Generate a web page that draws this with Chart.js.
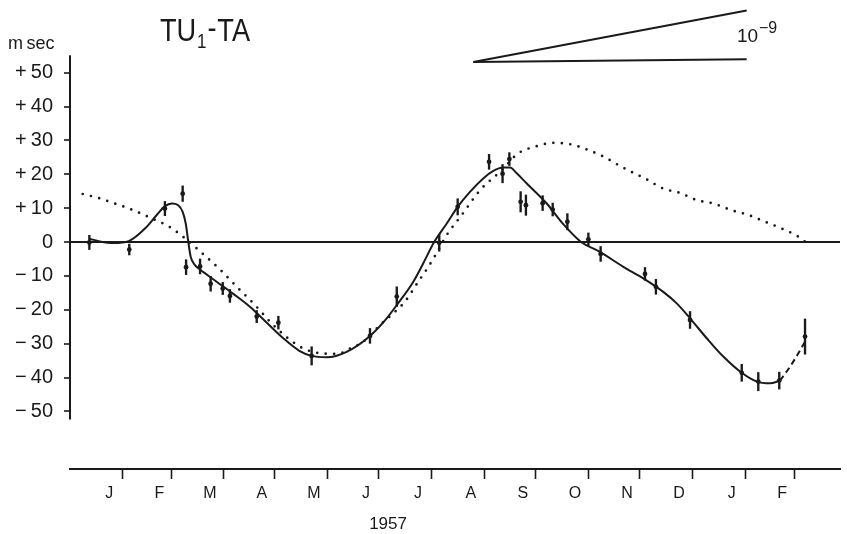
<!DOCTYPE html>
<html>
<head>
<meta charset="utf-8">
<script src="https://cdn.jsdelivr.net/npm/chart.js@4.4.1/dist/chart.umd.min.js"></script>
<style>
  html, body { margin: 0; padding: 0; background: #fff; }
  #wrap { width: 847px; height: 534px; position: relative; }
</style>
</head>
<body>
<div id="wrap"><canvas id="chart"></canvas></div>
<script>
// Month boundaries in days since 1 Jan 1957 (Jan 1957 .. Mar 1958)
const monthStarts = [0, 31, 59, 90, 120, 151, 181, 212, 243, 273, 304, 334, 365, 396, 424];
const monthLabels = ['J', 'F', 'M', 'A', 'M', 'J', 'J', 'A', 'S', 'O', 'N', 'D', 'J', 'F'];
const yTickValues = [50, 40, 30, 20, 10, 0, -10, -20, -30, -40, -50];

// Observed TU1 - TA in msec, with half-length of each error bar
const obsDay   = [3.9, 27.3, 48.2, 58.6, 60.6, 68.8, 75.0, 82.1, 86.3, 102.0, 114.7,
                  134.2, 168.4, 184.1, 209.0, 219.8, 238.2, 246.1, 250.1, 256.7, 259.8,
                  269.6, 275.5, 284.1, 296.4, 303.6, 329.6, 336.0, 356.0, 386.3, 396.0,
                  408.3, 423.4];
const obsValue = [-0.1, -2.2, 9.9, 14.3, -7.4, -7.2, -12.3, -13.7, -15.9, -22.0, -23.8,
                  -33.6, -27.7, -16.1, -0.2, 10.4, 23.7, 20.2, 24.5, 11.9, 10.9,
                  11.5, 9.6, 6.0, 0.8, -3.5, -9.4, -13.2, -23.0, -38.6, -41.2,
                  -40.9, -27.9];
const obsError = [2.1, 1.6, 2.1, 2.3, 2.2, 2.2, 2.2, 1.8, 1.9, 1.8, 1.9,
                  2.7, 2.2, 2.9, 2.5, 2.4, 2.2, 2.7, 1.9, 3.0, 3.0,
                  2.2, 1.9, 2.4, 1.9, 2.2, 1.9, 2.2, 2.5, 2.5, 2.7,
                  2.5, 5.2];

// Smoothed fit through the observations (solid) and its extrapolated end (dashed)
const fitDay   = [3.9, 10, 18, 27, 37.5, 43.4, 48.2, 52.2, 56, 58.6, 60.4, 61.9, 63.3, 65.8,
                  68.8, 78.5, 88.3, 98, 107.9, 117.6, 127, 134.2, 143, 154.7, 168.4, 178.2,
                  184.1, 193.8, 201.6, 205.5, 213.4, 219.8, 227, 234.8, 240.7, 246.2, 250.5,
                  254.4, 260.3, 272, 281.7, 292, 303.2, 316.9, 328.6, 340.3, 348.2, 356,
                  365.8, 375.5, 386.3, 395.1, 402.9, 408.7];
const fitValue = [1.0, 0.2, -0.3, 0.3, 4.5, 8.0, 10.6, 11.4, 10.9, 8.9, 5.5, 0.1, -4.3, -6.8,
                  -8.1, -11.7, -15.3, -19.1, -23.8, -28.4, -32.1, -33.6, -34.0, -32.4, -27.7, -22.5,
                  -18.6, -11.7, -4.3, -0.4, 5.5, 10.4, 14.8, 18.8, 21.0, 22.0, 22.0,
                  20.3, 17.3, 11.4, 5.3, 0.1, -2.9, -7.3, -10.7, -14.7, -18.1, -22.5,
                  -28.4, -33.8, -38.6, -41.2, -41.7, -40.9];
const tailDay   = [408.7, 414.6, 419.5, 423.4];
const tailValue = [-40.9, -36.8, -32.8, -29.4];

// Dotted comparison curve
const dotDay   = [0, 10.1, 19.9, 28.7, 40.4, 50.2, 60, 69.8, 80.1, 90.3, 101, 109.8, 119.6,
                  129.3, 139.1, 149.8, 156.7, 164.5, 174.3, 182.1, 188.9, 196.7, 202.6, 207.5,
                  213.4, 222.2, 232.9, 245.6, 255.3, 266.1, 275.9, 285.6, 295.8, 306.2, 315.9,
                  330.6, 340.3, 350.2, 359.9, 369.6, 380.4, 390.2, 400, 409.7, 419.5, 425.3];
const dotValue = [14.2, 12.9, 11.2, 9.6, 7.0, 4.7, 1.1, -3.2, -7.9, -13.2, -18.6, -23.5, -28.1,
                  -31.4, -32.8, -33.0, -31.4, -29.4, -24.5, -21.0, -17.6, -11.7, -7.3, -3.2,
                  2.1, 8.0, 15.3, 21.2, 26.2, 28.3, 29.3, 28.9, 27.3, 25.0, 22.2,
                  18.5, 15.8, 14.5, 12.4, 11.4, 9.4, 8.0, 6.0, 4.0, 1.6, -0.6];

// Rate wedge for a slope of 1e-9
const wedgeDay   = [229, 389.2];
const wedgeUpper = [53.2, 68.4];
const wedgeLower = [53.2, 54.0];

const INK = '#1a1a1a';
const SANS = "'Liberation Sans', Arial, sans-serif";

const zip = (xs, ys) => xs.map((x, i) => ({ x, y: ys[i] }));

// Tick positions: month starts (tick marks) interleaved with mid-months (labels)
const xTicks = [];
monthStarts.forEach((d, i) => {
  xTicks.push(d);
  if (i < monthLabels.length) xTicks.push((d + monthStarts[i + 1]) / 2);
});

const annotate = {
  id: 'annotate',
  afterDraw(chart, args, opts) {
    const { ctx, chartArea, scales: { x, y } } = chart;
    ctx.save();
    ctx.strokeStyle = INK;
    ctx.fillStyle = INK;
    // truncated vertical axis line
    ctx.lineWidth = 2;
    ctx.beginPath();
    ctx.moveTo(chartArea.left, y.getPixelForValue(opts.axisTop));
    ctx.lineTo(chartArea.left, y.getPixelForValue(opts.axisBottom));
    ctx.stroke();

    ctx.textBaseline = 'alphabetic';
    ctx.textAlign = 'left';

    // title TU1-TA, horizontally condensed
    ctx.save();
    ctx.translate(160, 41);
    ctx.scale(0.85, 1);
    let tx = 0;
    ctx.font = '32px ' + SANS;
    ctx.fillText('TU', tx, 0);
    tx += ctx.measureText('TU').width + 1;
    ctx.font = '20px ' + SANS;
    ctx.fillText('1', tx, 7);
    tx += ctx.measureText('1').width + 1;
    ctx.font = '32px ' + SANS;
    ctx.fillText('-', tx, -3);
    tx += ctx.measureText('-').width + 1;
    ctx.fillText('TA', tx, 0);
    ctx.restore();

    // unit label
    ctx.font = '18px ' + SANS;
    ctx.fillText('m\u2009sec', 8, 49);

    // wedge label 10^-9
    ctx.font = '19px ' + SANS;
    ctx.fillText('10', 737, 42);
    ctx.font = '16px ' + SANS;
    ctx.fillText('\u22129', 759, 33);

    // year under the month axis
    ctx.font = '17px ' + SANS;
    ctx.textAlign = 'center';
    ctx.fillText('1957', x.getPixelForValue(opts.yearAt), 529);
    ctx.restore();
  }
};

new Chart(document.getElementById('chart'), {
  type: 'line',
  data: {
    datasets: [
      {
        type: 'bar',
        label: 'error',
        data: obsDay.map((d, i) => ({ x: d, y: [obsValue[i] - obsError[i], obsValue[i] + obsError[i]] })),
        backgroundColor: INK,
        borderWidth: 0,
        barThickness: 1.7,
        grouped: false
      },
      {
        type: 'scatter',
        label: 'observed',
        data: zip(obsDay, obsValue),
        showLine: false,
        pointRadius: 2.4,
        pointBackgroundColor: INK,
        pointBorderWidth: 0
      },
      {
        label: 'fit',
        data: zip(fitDay, fitValue),
        borderColor: INK,
        borderWidth: 2,
        pointRadius: 0,
        cubicInterpolationMode: 'monotone',
        fill: false
      },
      {
        label: 'fit-tail',
        data: zip(tailDay, tailValue),
        borderColor: INK,
        borderWidth: 2,
        borderDash: [6, 4],
        pointRadius: 0,
        cubicInterpolationMode: 'monotone',
        fill: false
      },
      {
        label: 'dotted',
        data: zip(dotDay, dotValue),
        borderColor: INK,
        borderWidth: 2.7,
        borderDash: [0, 8.5],
        borderCapStyle: 'round',
        pointRadius: 0,
        cubicInterpolationMode: 'monotone',
        fill: false
      },
      {
        label: 'wedge-upper',
        data: zip(wedgeDay, wedgeUpper),
        borderColor: INK,
        borderWidth: 2,
        pointRadius: 0,
        tension: 0
      },
      {
        label: 'wedge-lower',
        data: zip(wedgeDay, wedgeLower),
        borderColor: INK,
        borderWidth: 2,
        pointRadius: 0,
        tension: 0
      }
    ]
  },
  options: {
    responsive: true,
    maintainAspectRatio: false,
    animation: false,
    events: [],
    layout: { padding: { top: 5, right: 7, left: 0, bottom: 0 } },
    plugins: {
      legend: { display: false },
      tooltip: { enabled: false },
      title: { display: false },
      annotate: { axisTop: 55.2, axisBottom: -52.4, yearAt: 179 }
    },
    scales: {
      x: {
        type: 'linear',
        min: -7.44,
        max: 443.9,
        offset: false,
        afterBuildTicks: s => { s.ticks = xTicks.map(v => ({ value: v })); },
        afterFit: s => { s.height = 65; s.paddingLeft = 0; s.paddingRight = 0; },
        border: { display: true, color: INK, width: 2 },
        grid: {
          drawOnChartArea: false,
          drawTicks: true,
          tickLength: 10,
          tickWidth: 1.6,
          tickColor: c => (c.index % 2 === 0 ? INK : 'rgba(0,0,0,0)')
        },
        ticks: {
          autoSkip: false,
          maxRotation: 0,
          padding: 5,
          color: INK,
          font: { family: SANS, size: 16 },
          callback: (v, i) => (i % 2 ? monthLabels[(i - 1) / 2] : '')
        }
      },
      y: {
        type: 'linear',
        min: -67,
        max: 70,
        afterBuildTicks: s => { s.ticks = yTickValues.map(v => ({ value: v })); },
        afterFit: s => { s.width = 70; s.paddingTop = 0; s.paddingBottom = 0; },
        border: { display: false },
        grid: {
          drawOnChartArea: true,
          drawTicks: true,
          tickLength: 6,
          tickWidth: 1.6,
          tickColor: INK,
          lineWidth: 2,
          color: c => (c.tick && c.tick.value === 0 ? INK : 'rgba(0,0,0,0)')
        },
        ticks: {
          padding: 11,
          color: INK,
          font: { family: SANS, size: 20 },
          callback: v => (v > 0 ? '+\u2009' + v : v < 0 ? '\u2212\u2009' + (-v) : '0')
        }
      }
    }
  },
  plugins: [annotate]
});
</script>
</body>
</html>
